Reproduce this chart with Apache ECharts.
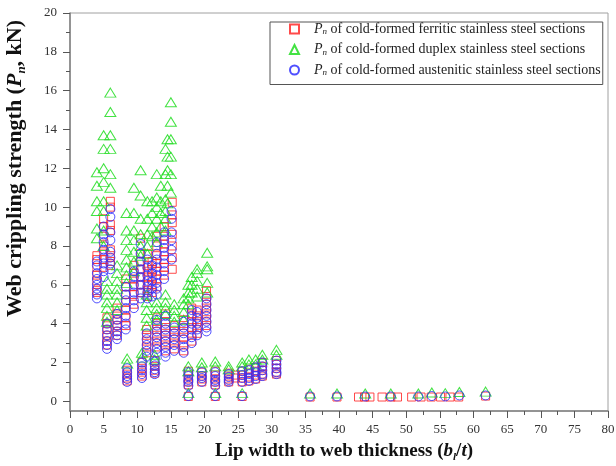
<!DOCTYPE html>
<html>
<head>
<meta charset="utf-8">
<script src="https://cdn.jsdelivr.net/npm/echarts@6/dist/echarts.min.js"></script>
<style>
  html, body { margin: 0; padding: 0; background: #ffffff; }
  #chart { width: 616px; height: 466px; }
</style>
</head>
<body>
<div id="chart"></div>
<script>
// Web crippling strength Pn (kN) against lip width to web thickness ratio bl/t.
// Each entry: [bl/t, [Pn values measured at that ratio]]
const ferriticCols = [
  [4.0, [7.5, 7.3, 6.9, 6.5, 6.2, 5.7, 5.6]],
  [5.0, [9.4, 9.0, 8.5, 8.0, 7.7, 7.3, 6.9]],
  [5.5, [4.3, 4.0, 3.7, 3.4, 3.1, 2.9]],
  [6.0, [10.3, 10.0, 9.1, 8.8, 7.8, 7.5, 7.2, 7.0]],
  [7.0, [4.8, 4.5, 4.2, 3.9, 3.6, 3.4]],
  [8.3, [6.3, 5.9, 5.5, 5.1, 4.7, 4.3, 3.9]],
  [8.5, [1.6, 1.4, 1.2, 1.05]],
  [9.5, [7.0, 6.6, 6.3, 5.9, 5.5, 5.0]],
  [10.5, [8.4, 7.6, 7.2, 6.8, 6.4, 6.0, 5.6]],
  [10.7, [2.0, 1.7, 1.5, 1.3]],
  [11.5, [7.6, 7.0, 6.7, 6.4, 6.0, 5.7, 5.4]],
  [11.4, [3.7, 3.4, 3.1, 2.8, 2.5]],
  [12.2, [7.2, 6.8, 6.4, 6.0, 5.6]],
  [12.6, [2.1, 1.8, 1.6, 1.45]],
  [12.9, [8.5, 8.0, 7.5, 7.1, 6.7, 6.3, 5.9]],
  [12.9, [4.3, 4.0, 3.7, 3.4, 3.1, 2.8]],
  [14.0, [9.0, 8.5, 8.1, 7.7, 7.3, 6.9, 6.5]],
  [14.2, [4.5, 4.1, 3.8, 3.5, 3.2, 2.9, 2.6]],
  [15.2, [10.25, 9.6, 9.2, 8.6, 8.0, 7.4, 6.8]],
  [15.5, [3.9, 3.6, 3.3, 3.0, 2.7]],
  [16.9, [4.2, 3.9, 3.6, 3.3, 2.9, 2.6]],
  [18.1, [4.8, 4.5, 4.1, 3.8, 3.4, 3.1]],
  [18.9, [4.7, 4.4, 4.1, 3.8, 3.5]],
  [20.3, [5.7, 5.4, 5.1, 4.8, 4.5, 4.2, 3.9]],
  [17.6, [1.55, 1.35, 1.15, 1.0, 0.85, 0.25]],
  [19.6, [1.5, 1.3, 1.15, 1.0]],
  [21.6, [1.55, 1.35, 1.15, 1.0, 0.85, 0.25]],
  [23.6, [1.45, 1.3, 1.15, 1.0]],
  [24.6, [1.35, 1.2]],
  [25.6, [1.55, 1.35, 1.2, 1.0, 0.25]],
  [26.6, [1.65, 1.45, 1.25, 1.05]],
  [27.6, [1.75, 1.55, 1.35, 1.15]],
  [28.6, [2.0, 1.8, 1.6, 1.4, 1.3]],
  [30.7, [2.1, 1.9, 1.7, 1.5, 1.4]],
  [35.7, [0.22]], [39.7, [0.22]], [42.9, [0.22]], [43.8, [0.22]], [44.6, [0.22]],
  [46.4, [0.22]], [47.7, [0.22]], [48.7, [0.22]], [50.8, [0.22]], [52.2, [0.22]],
  [53.7, [0.22]], [55.1, [0.22]], [56.5, [0.22]], [57.8, [0.22]], [61.8, [0.27]]
];

const duplexCols = [
  [4.0, [11.8, 11.1, 10.3, 9.8, 8.9, 8.4]],
  [5.0, [13.7, 13.0, 12.0, 11.3, 10.3, 9.8, 8.8, 8.0]],
  [5.5, [6.2, 5.8, 5.5, 5.1, 4.8, 4.4, 4.1]],
  [6.0, [15.9, 14.9, 13.7, 13.0, 11.7, 11.0]],
  [7.0, [7.0, 6.6, 6.2, 5.8, 5.5, 5.1, 4.7]],
  [8.4, [9.7, 8.8, 8.3, 7.8, 7.3, 6.9, 6.5, 6.1]],
  [8.5, [2.2, 1.95]],
  [9.5, [11.0, 9.7, 8.8, 8.3, 7.7, 7.2, 6.7]],
  [10.5, [11.9, 10.6, 9.4, 8.6, 8.0, 7.5]],
  [10.7, [2.5, 2.25]],
  [11.5, [10.3, 9.4, 8.6, 8.0, 7.6]],
  [11.4, [5.5, 5.1, 4.7, 4.3, 3.9]],
  [12.2, [10.3, 9.7, 9.0, 8.5]],
  [12.6, [2.4, 2.15]],
  [12.9, [11.7, 10.5, 10.0, 9.4, 8.7, 8.2]],
  [12.9, [5.1, 4.8, 4.5, 4.2]],
  [13.5, [11.1, 10.3, 9.7, 9.0]],
  [14.2, [13.0, 11.7, 10.4, 9.8, 9.4, 8.8]],
  [14.2, [5.5, 5.1, 4.8, 4.5]],
  [14.5, [13.5, 12.6, 11.9, 11.1, 10.2]],
  [15.0, [15.4, 14.4, 13.5, 12.6, 11.7, 10.75]],
  [15.5, [5.0, 4.7, 4.4, 4.1]],
  [16.9, [5.3, 5.0, 4.6, 4.2]],
  [17.6, [6.0, 5.6, 5.3, 5.0]],
  [18.1, [6.4, 6.0, 5.6]],
  [18.9, [6.8, 6.6, 6.2, 5.8, 5.4]],
  [20.4, [7.65, 6.95, 6.8, 6.1, 5.6]],
  [17.6, [1.8, 1.55, 0.42]],
  [19.6, [2.0, 1.75]],
  [21.6, [2.05, 1.8, 0.42]],
  [23.6, [1.8, 1.65]],
  [25.6, [2.0, 1.8, 0.42]],
  [26.6, [2.15, 1.9]],
  [27.6, [2.15, 1.9]],
  [28.6, [2.4, 2.15]],
  [30.7, [2.65, 2.4]],
  [35.7, [0.4]], [39.7, [0.4]], [43.9, [0.4]], [47.7, [0.4]], [51.8, [0.4]],
  [53.8, [0.45]], [55.8, [0.42]], [57.9, [0.48]], [61.8, [0.5]]
];

const austeniticCols = [
  [4.0, [7.2, 7.0, 6.6, 6.3, 6.0, 5.8, 5.5, 5.3]],
  [5.0, [9.0, 8.6, 8.2, 7.8, 7.4, 7.1, 6.7, 6.4]],
  [5.5, [4.0, 3.7, 3.4, 3.1, 2.9, 2.7]],
  [6.0, [9.9, 9.5, 8.7, 8.3, 7.7, 7.4, 7.1, 6.8]],
  [7.0, [4.5, 4.2, 3.9, 3.6, 3.4, 3.2]],
  [8.3, [5.9, 5.5, 5.2, 4.8, 4.4, 4.0, 3.7]],
  [8.5, [1.7, 1.5, 1.3, 1.15, 1.0]],
  [9.5, [6.7, 6.4, 6.0, 5.6, 5.2, 4.8]],
  [10.5, [8.1, 7.6, 7.2, 6.8, 6.4, 6.0, 5.6, 5.3]],
  [10.7, [2.0, 1.8, 1.6, 1.4, 1.2]],
  [11.5, [7.3, 6.9, 6.5, 6.2, 5.9, 5.6, 5.3]],
  [11.4, [3.5, 3.2, 2.9, 2.6, 2.3]],
  [12.2, [7.0, 6.6, 6.2, 5.8, 5.4]],
  [12.6, [2.05, 1.85, 1.65, 1.5, 1.4]],
  [12.9, [8.2, 7.6, 7.3, 6.9, 6.5, 6.1, 5.8, 5.5]],
  [12.9, [4.2, 3.9, 3.6, 3.3, 3.0, 2.7, 2.5]],
  [14.0, [8.7, 8.3, 7.9, 7.5, 7.1, 6.7, 6.3]],
  [14.2, [4.4, 4.0, 3.7, 3.4, 3.1, 2.8, 2.5, 2.3]],
  [15.1, [9.8, 9.4, 8.7, 8.3, 7.8, 7.3]],
  [15.5, [3.8, 3.5, 3.2, 2.9, 2.6]],
  [16.9, [4.1, 3.8, 3.5, 3.2, 2.8, 2.5]],
  [18.1, [4.7, 4.4, 4.0, 3.7, 3.3, 3.0]],
  [18.9, [4.6, 4.3, 4.0, 3.7, 3.4]],
  [20.3, [5.3, 5.0, 4.7, 4.4, 4.1, 3.8, 3.6]],
  [17.6, [1.5, 1.3, 1.1, 1.0, 0.8, 0.27]],
  [19.6, [1.5, 1.3, 1.2, 1.0]],
  [21.6, [1.5, 1.3, 1.1, 1.0, 0.8, 0.27]],
  [23.6, [1.4, 1.25, 1.1, 1.0]],
  [25.6, [1.55, 1.35, 1.2, 1.0, 0.27]],
  [26.6, [1.6, 1.4, 1.2, 1.05]],
  [27.6, [1.75, 1.5, 1.3, 1.15]],
  [28.6, [2.0, 1.8, 1.6, 1.4, 1.3]],
  [30.7, [2.1, 1.9, 1.7, 1.5, 1.4]],
  [35.7, [0.25]], [39.7, [0.25]], [43.9, [0.25]], [47.7, [0.25]], [51.8, [0.25]],
  [53.8, [0.27]], [55.8, [0.25]], [57.9, [0.3]], [61.8, [0.3]]
];

const yMajorTicks = [0, 2, 4, 6, 8, 10, 12, 14, 16, 18, 20];
const yMinorTicks = [1, 3, 5, 7, 9, 11, 13, 15, 17, 19];

const seriesNames = [
  'Pn of cold-formed ferritic stainless steel sections',
  'Pn of cold-formed duplex stainless steel sections',
  'Pn of cold-formed austenitic stainless steel sections'
];

function toPoints(cols) {
  const pts = [];
  cols.forEach(function (c) {
    c[1].forEach(function (v) { pts.push([c[0], v]); });
  });
  return pts;
}

const SERIF = '"Liberation Serif", "Times New Roman", serif';
const axisGray = '#808080';

const chart = echarts.init(document.getElementById('chart'), null, { renderer: 'canvas' });

function hollow(color) {
  return { color: 'rgba(255,255,255,0)', borderColor: color, borderWidth: 1, opacity: 0.85 };
}

function titleRich(size) {
  return {
    bi: { fontFamily: SERIF, fontSize: size, fontWeight: 'bold', fontStyle: 'italic', color: '#111', lineHeight: size + 4 },
    bs: { fontFamily: SERIF, fontSize: Math.round(size * 0.6), fontWeight: 'bold', fontStyle: 'italic', color: '#111', verticalAlign: 'bottom', lineHeight: size + 4 }
  };
}

chart.setOption({
  animation: false,
  backgroundColor: '#ffffff',
  grid: {
    left: 70, right: 8, top: 13, bottom: 55,
    outerBoundsMode: 'none',
    containLabel: false,
    show: true, borderColor: '#a0a0a0', borderWidth: 1, backgroundColor: 'transparent'
  },
  legend: {
    orient: 'vertical',
    left: 270, top: 22,
    padding: [0, 2, 7, 19],
    itemWidth: 9, itemHeight: 9, itemGap: 6,
    borderColor: '#555555', borderWidth: 1,
    backgroundColor: '#ffffff',
    data: seriesNames,
    formatter: function (name) {
      return '{g|}{i|P}{s|n}{t| ' + name.slice(3) + '}';
    },
    textStyle: {
      fontFamily: SERIF, fontSize: 14, color: '#222',
      rich: {
        g: { width: 10, lineHeight: 15 },
        i: { fontFamily: SERIF, fontSize: 14, fontStyle: 'italic', color: '#222', lineHeight: 15 },
        s: { fontFamily: SERIF, fontSize: 9, fontStyle: 'italic', color: '#222', verticalAlign: 'bottom', lineHeight: 15 },
        t: { fontFamily: SERIF, fontSize: 14, color: '#222', lineHeight: 15 }
      }
    }
  },
  xAxis: {
    type: 'value', min: 0, max: 80, interval: 5,
    axisLine: { show: true, onZero: false, lineStyle: { color: axisGray, width: 1.5 } },
    axisTick: { show: true, length: 7, lineStyle: { color: '#555' } },
    minorTick: { show: true, splitNumber: 2, length: 4, lineStyle: { color: '#555' } },
    axisLabel: { margin: 12, fontFamily: SERIF, fontSize: 13, color: '#333' },
    splitLine: { show: false },
    name: 'Lip width to web thickness ({bi|b}{bs|l}/{bi|t})',
    nameLocation: 'middle', nameGap: 29,
    nameTextStyle: {
      fontFamily: SERIF, fontSize: 19, fontWeight: 'bold', color: '#111',
      padding: [0, 0, 0, 10],
      rich: titleRich(19)
    }
  },
  yAxis: [{
    type: 'value', min: -0.5, max: 20,
    axisLine: { show: true, onZero: false, lineStyle: { color: axisGray, width: 1.5 } },
    axisTick: { show: true, length: 7, customValues: yMajorTicks, lineStyle: { color: '#555' } },
    axisLabel: { customValues: yMajorTicks, margin: 13, fontFamily: SERIF, fontSize: 13, color: '#333' },
    splitLine: { show: false },
    name: 'Web crippling strength ({bi|P}{bs|n}, kN)',
    nameLocation: 'middle', nameGap: 42,
    nameTextStyle: {
      fontFamily: SERIF, fontSize: 22, fontWeight: 'bold', color: '#111',
      padding: [0, 0, 0, 87],
      rich: titleRich(22)
    }
  }, {
    type: 'value', min: -0.5, max: 20, position: 'left',
    axisLine: { show: false },
    axisTick: { show: true, length: 4, customValues: yMinorTicks, lineStyle: { color: '#555' } },
    axisLabel: { show: false },
    splitLine: { show: false }
  }],
  series: [
    {
      name: seriesNames[0], type: 'scatter', yAxisIndex: 0,
      symbol: 'rect', symbolSize: 8,
      itemStyle: hollow('#ff2a2a'),
      data: toPoints(ferriticCols)
    },
    {
      name: seriesNames[1], type: 'scatter', yAxisIndex: 0,
      symbol: 'triangle', symbolSize: [11, 9],
      itemStyle: hollow('#22dd22'),
      data: toPoints(duplexCols)
    },
    {
      name: seriesNames[2], type: 'scatter', yAxisIndex: 0,
      symbol: 'circle', symbolSize: 9,
      itemStyle: hollow('#3030ff'),
      data: toPoints(austeniticCols)
    }
  ]
});
</script>
</body>
</html>
